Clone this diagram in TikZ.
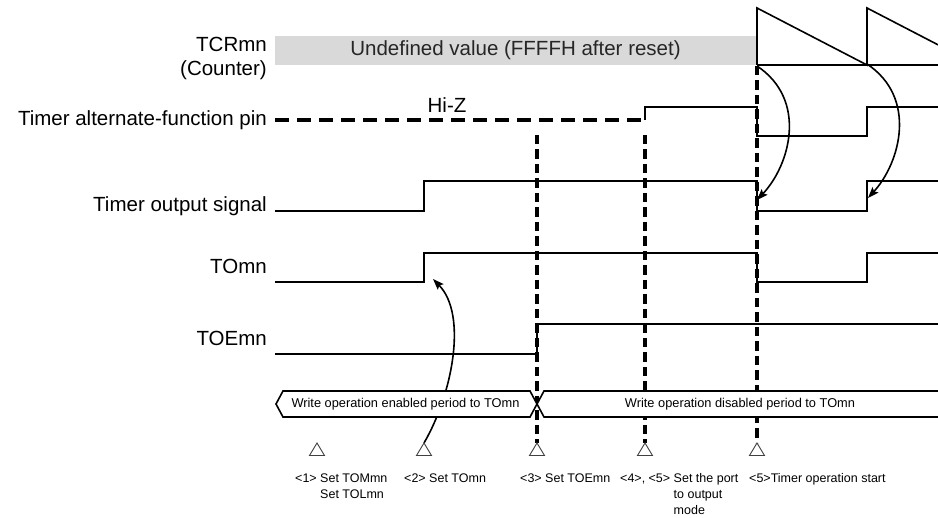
\documentclass[tikz,border=0pt]{standalone}
\usepackage{fontspec}
\setmainfont{Liberation Sans}
\usetikzlibrary{arrows.meta}
\begin{document}
\begin{tikzpicture}[x=1pt,y=-1pt,
  sig/.style={line width=1.6pt, line join=miter},
  hiz/.style={line width=3.2pt, dash pattern=on 14pt off 8pt},
  vdash/.style={line width=3.2pt, dash pattern=on 9.5pt off 5pt},
  lab/.style={font=\fontsize{20.5}{23.5}\selectfont, inner sep=0pt},
  bustext/.style={font=\fontsize{12.8}{15}\selectfont, inner sep=0pt},
  note/.style={font=\fontsize{12.5}{15}\selectfont, inner sep=0pt, anchor=base west},
  tri/.style={draw=black!75, line width=0.9pt, fill=white},
  arr/.style={line width=1.6pt, -{Stealth[length=11pt,width=8pt,inset=2pt]}}]
\useasboundingbox (0,0) rectangle (938,518);

% labels
\node[lab, anchor=base east] (lTCR) at (267,52) {TCRmn};
\node[lab, anchor=base east] (lCnt) at (267,75.5) {(Counter)};
\node[lab, anchor=base east] (lPin) at (267,126) {Timer alternate-function pin};
\node[lab, anchor=base east] (lOut) at (267,212) {Timer output signal};
\node[lab, anchor=base east] (lTO) at (267,274) {TOmn};
\node[lab, anchor=base east] (lTOE) at (267,346) {TOEmn};

% TCRmn
\fill[gray!30] (275,36) rectangle (757,65);
\node[lab, anchor=base, text=black!85] (undef) at (515.5,56) {Undefined value (FFFFH after reset)};
\draw[sig] (757,65) -- (757,8) -- (867,65) -- (867,8) -- (938,44.8);
\draw[sig] (757,65) -- (938,65);

% event coordinates
\coordinate (t1) at (317,443);
\coordinate (t2) at (424,443);
\coordinate (t3) at (537,443);
\coordinate (t4) at (645,443);
\coordinate (t5) at (757,443);
\coordinate (c1s) at (757,66);
\coordinate (c1e) at (757,200);
\coordinate (c2s) at (867,64);
\coordinate (c2e) at (868,198);
\coordinate (toup) at (433,279);

% dashed event lines
\draw[vdash] (537,135) -- (t3);
\draw[vdash] (645,135) -- (t4);
\draw[vdash] (757,66) -- (t5);

% pin
\draw[hiz] (275,120) -- (645,120);
\draw[sig] (645,120) -- (645,107) -- (757,107) -- (757,136) -- (867,136) -- (867,107) -- (938,107);
\node[lab, anchor=base] (hiZ) at (447,113) {Hi-Z};

% timer output signal
\draw[sig] (275,211) -- (424,211) -- (424,181) -- (757,181) -- (757,211) -- (867,211) -- (867,181) -- (938,181);
% TOmn
\draw[sig] (275,282) -- (424,282) -- (424,253) -- (757,253) -- (757,282) -- (867,282) -- (867,253) -- (938,253);
% TOEmn
\draw[sig] (275,354) -- (537,354) -- (537,324) -- (938,324);

% curved arrows
\draw[arr] (t2) .. controls (452,395) and (468,315) .. (toup);
\draw[arr] (c1s) .. controls (808,100) and (790,165) .. (c1e);
\draw[arr] (c2s) .. controls (918,98) and (900,163) .. (c2e);

% bus
\draw[sig, fill=white] (276,404) -- (283,391) -- (530,391) -- (537,404) -- (530,417) -- (283,417) -- cycle;
\fill[white] (938,391) -- (544,391) -- (537,404) -- (544,417) -- (938,417) -- cycle;
\draw[sig] (938,391) -- (544,391) -- (537,404) -- (544,417) -- (938,417);
\node[bustext, anchor=base] (wen) at (405.5,408) {Write operation enabled period to TOmn};
\node[bustext, anchor=base] (wdis) at (740,408) {Write operation disabled period to TOmn};

% triangles
\foreach \c in {t1,t2,t3,t4,t5}{
  \draw[tri] (\c) -- ++(7.5,12.5) -- ++(-15,0) -- cycle;
}

% notes
\node[note] (n1a) at (295,482.5) {<1> Set TOMmn};
\node[note] (n1b) at (295,498.5) {\hphantom{<1> }Set TOLmn};
\node[note] (n2) at (404,482.5) {<2> Set TOmn};
\node[note] (n3) at (520,482.5) {<3> Set TOEmn};
\node[note] (n4a) at (620,482.5) {<4>, <5> Set the port};
\node[note] (n4c) at (620,498.5) {\hphantom{<4>, <5> }to output};
\node[note] (n4d) at (620,514.5) {\hphantom{<4>, <5> }mode};
\node[note] (n5) at (749,482.5) {<5>Timer operation start};
\end{tikzpicture}
\end{document}
